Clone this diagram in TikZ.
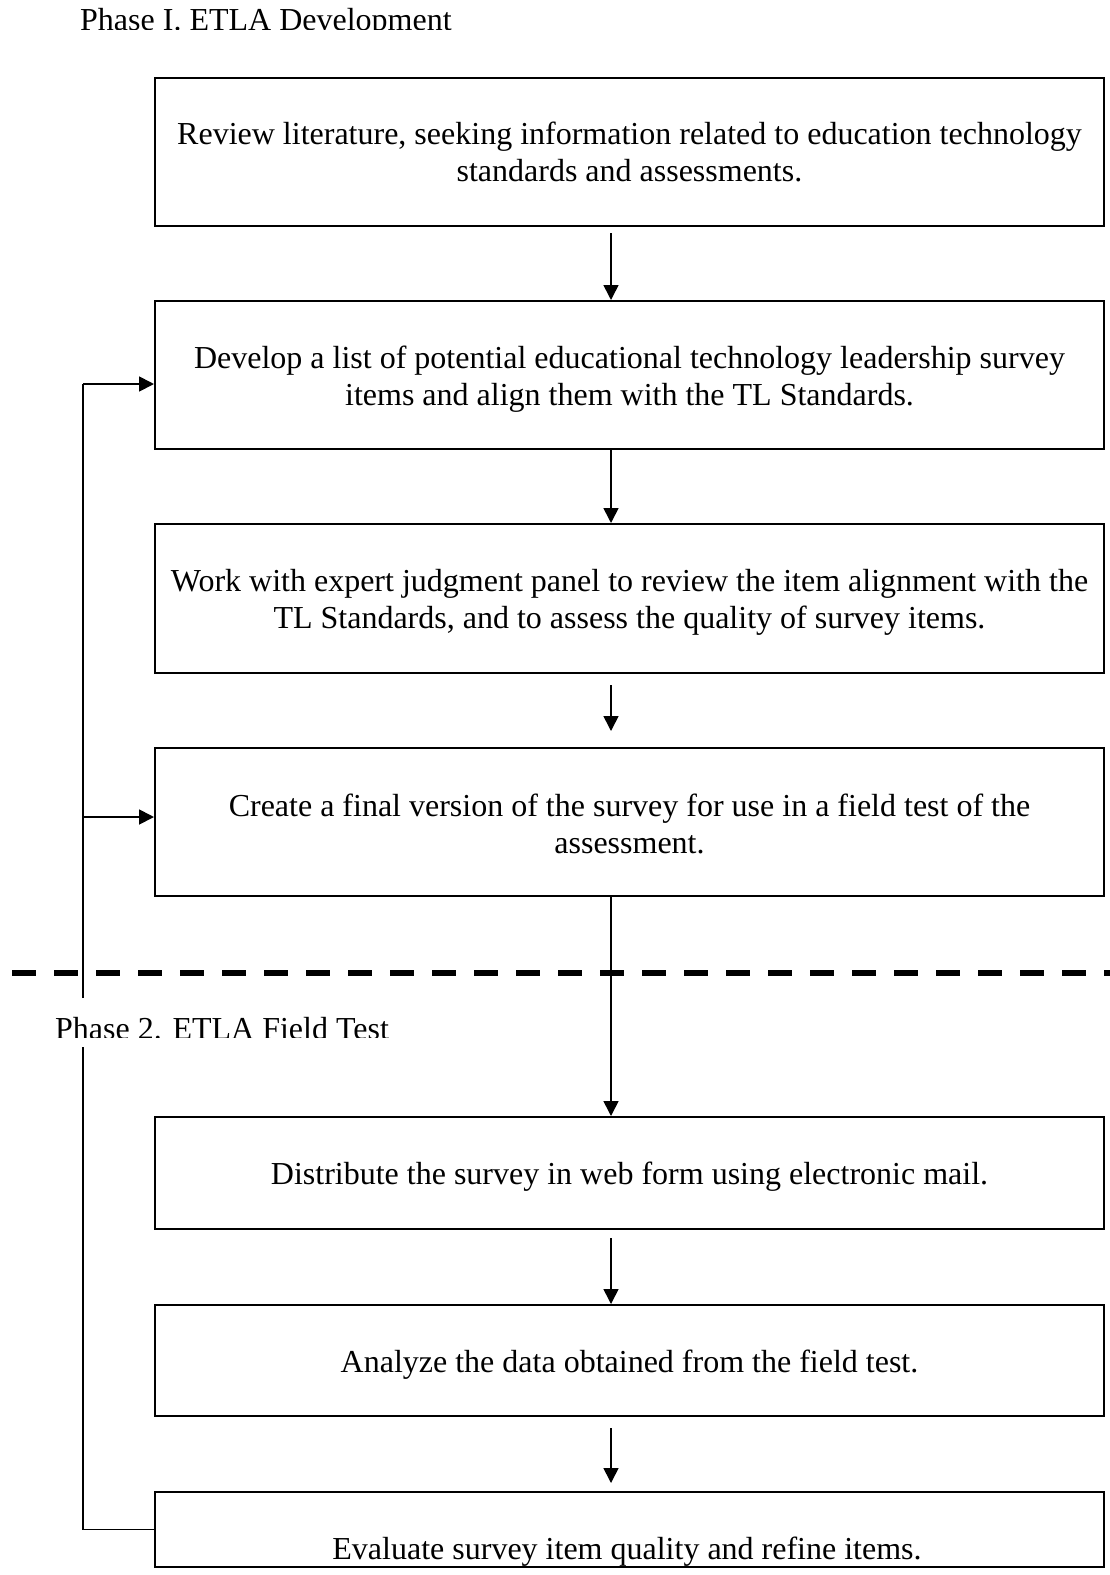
\documentclass[tikz,border=0pt]{standalone}
\usepackage{fontspec}
\setmainfont{Liberation Serif}
\usetikzlibrary{arrows.meta}
\tikzset{
  stepbox/.style={draw, line width=2pt, rectangle, inner sep=0pt, minimum width=949pt},
  boxtext/.style={inner sep=0pt, align=center, font=\fontsize{32}{37}\selectfont},
  phasetitle/.style={inner sep=0pt, font=\fontsize{32}{37}\selectfont},
  arr/.style={line width=1.6pt, -{Triangle[width=15pt,length=15pt]}},
  fbline/.style={line width=1.8pt},
}
\begin{document}
\begin{tikzpicture}[x=1pt,y=-1pt]
\useasboundingbox (0,0) rectangle (1110,1575);
\fill[white] (0,0) rectangle (1110,1575);
% titles (clipped as in the reference)
\begin{scope}
\clip (0,0) rectangle (1110,29);
\node[phasetitle, anchor=base west] (t1) at (80,30) {Phase I. ETLA Development};
\end{scope}
\begin{scope}
\clip (0,1000) rectangle (700,1037.5);
\node[phasetitle, anchor=base west] (t2) at (55,1039) {Phase 2. ETLA Field Test};
\end{scope}
% boxes
\node[stepbox, minimum height=148pt] (b1) at (629.5,152) {};
\node[stepbox, minimum height=148pt] (b2) at (629.5,375) {};
\node[stepbox, minimum height=149pt] (b3) at (629.5,598.5) {};
\node[stepbox, minimum height=148pt] (b4) at (629.5,822) {};
\node[stepbox, minimum height=112pt] (b5) at (629.5,1173) {};
\node[stepbox, minimum height=111pt] (b6) at (629.5,1360.5) {};
\node[stepbox, minimum height=75pt] (b7) at (629.5,1529.5) {};
% box texts
\node[boxtext] (b1t) at (b1.center) {Review literature, seeking information related to education technology\\standards and assessments.};
\node[boxtext] (b2t) at ([yshift=-4pt]b2.center) {Develop a list of potential educational technology leadership survey\\items and align them with the TL Standards.};
\node[boxtext] (b3t) at ([yshift=-4pt]b3.center) {Work with expert judgment panel to review the item alignment with the\\TL Standards, and to assess the quality of survey items.};
\node[boxtext] (b4t) at ([yshift=-2pt]b4.center) {Create a final version of the survey for use in a field test of the\\assessment.};
\node[boxtext] (b5t) at ([yshift=-4pt]b5.center) {Distribute the survey in web form using electronic mail.};
\node[boxtext] (b6t) at ([yshift=-4pt]b6.center) {Analyze the data obtained from the field test.};
\node[boxtext, anchor=base] (b7t) at (627,1559) {Evaluate survey item quality and refine items.};
% down arrows
\draw[arr] ([xshift=-18.5pt,yshift=-6pt]b1.south) -- ([xshift=-18.5pt]b2.north);
\draw[arr] ([xshift=-18.5pt]b2.south) -- ([xshift=-18.5pt]b3.north);
\draw[arr] ([xshift=-18.5pt,yshift=-11pt]b3.south) -- ([xshift=-18.5pt,yshift=16pt]b4.north);
\draw[arr] ([xshift=-18.5pt]b4.south) -- ([xshift=-18.5pt]b5.north);
\draw[arr] ([xshift=-18.5pt,yshift=-8pt]b5.south) -- ([xshift=-18.5pt]b6.north);
\draw[arr] ([xshift=-18.5pt,yshift=-11pt]b6.south) -- ([xshift=-18.5pt,yshift=8pt]b7.north);
% phase divider
\draw[line width=6pt, dash pattern=on 24pt off 18pt] (12,973) -- (1110,973);
% feedback loop
\coordinate (f2) at (83,384);
\coordinate (f4) at (83,817);
\coordinate (gapTop) at (83,998);
\coordinate (gapBot) at (83,1047);
\draw[fbline] (b7.west) -- (b7.west -| gapBot) -- (gapBot);
\draw[fbline] (gapTop) -- (f2);
\draw[arr, line width=1.8pt] (f2) -- (f2 -| b2.west);
\draw[arr, line width=1.8pt] (f4) -- (f4 -| b4.west);
\end{tikzpicture}
\end{document}
